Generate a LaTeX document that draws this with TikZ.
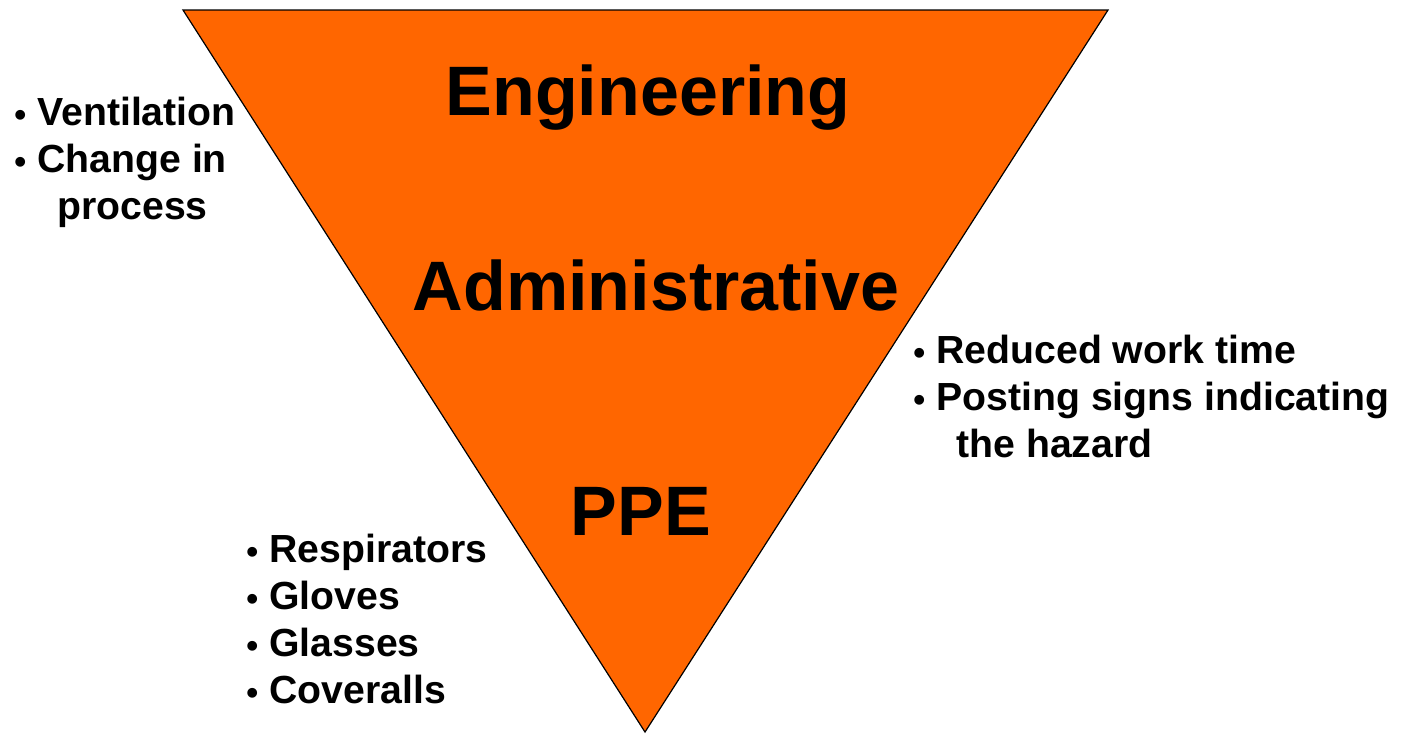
\documentclass[tikz,border=0pt]{standalone}
\usepackage{fontspec}
\setmainfont{Liberation Sans}
\definecolor{ppeorange}{HTML}{FF6600}
\newcommand{\blt}{\makebox[11.5pt][l]{\raisebox{-0.5pt}{\fontsize{17}{17}\selectfont•}}}
\tikzset{
  level/.style={anchor=base, inner sep=0, font=\fontsize{35}{40}\selectfont\bfseries},
  bullets/.style={anchor=base west, align=left, inner sep=0, font=\fontsize{19.6}{23.5}\selectfont\bfseries}
}
\begin{document}
\begin{tikzpicture}[x=0.5pt,y=-0.5pt]
\useasboundingbox (0,0) rectangle (1401,736);
\coordinate (tri0) at (183,10);
\coordinate (tri1) at (1108,10);
\coordinate (tri2) at (645,732);
\draw[fill=ppeorange, line width=0.6pt] (tri0) -- (tri1) -- (tri2) -- cycle;
\node[level] (lvl0) at (648,115){Engineering};
\node[level] (lvl1) at (656,310){Administrative};
\node[level] (lvl2) at (641,535){PPE};
\node[bullets] (lst0) at (14,219){\blt Ventilation\\\blt Change in\\\hspace*{21.5pt}process};
\node[bullets] (lst1) at (913,457){\blt Reduced work time\\\blt Posting signs indicating\\\hspace*{21.5pt}the hazard};
\node[bullets] (lst2) at (246,703){\blt Respirators\\\blt Gloves\\\blt Glasses\\\blt Coveralls};
\end{tikzpicture}
\end{document}
